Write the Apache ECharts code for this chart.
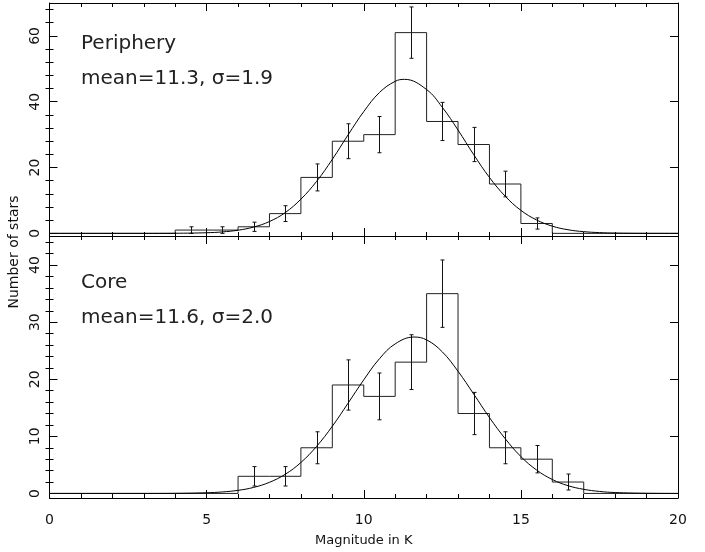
<!DOCTYPE html>
<html>
<head>
<meta charset="utf-8">
<script src="https://cdn.jsdelivr.net/npm/echarts@6/dist/echarts.min.js"></script>
<style>
html,body{margin:0;padding:0;background:#fff;}
#c{width:705px;height:552px;}
</style>
</head>
<body>
<div id="c"></div>
<script>
// ---- data ----
// Periphery (top panel): bins of width 1, left edges
const periEdges  = [4, 5, 6, 7, 8, 9, 10, 11, 12, 13, 14, 15];
const periCounts = [1, 1, 2, 6, 17, 28, 30, 61, 34, 27, 15, 3];
const periErr    = [1.0, 1.0, 1.4, 2.4, 4.1, 5.3, 5.5, 7.8, 5.8, 5.2, 3.9, 1.7];
const periCurveX = [0,1,2,3,4,5,5.5,6,6.5,7,7.5,8,8.5,9,9.5,10,10.5,11,11.3,12,12.5,13,13.5,14,14.5,15,15.5,16,16.5,17,17.5,18,19,20];
const periCurveY = [0,0,0,0,0.03,0.19,0.44,0.96,1.93,3.6,6.3,10.4,15.8,22.5,29.9,37.0,42.8,46.2,46.8,43.7,38.3,31.4,23.9,17.0,11.3,7.0,4.07,2.19,1.1,0.52,0.23,0.09,0.01,0];

// Core (bottom panel)
const coreEdges  = [6, 7, 8, 9, 10, 11, 12, 13, 14, 15, 16];
const coreCounts = [3, 3, 8, 19, 17, 23, 35, 14, 8, 6, 2];
const coreErr    = [1.7, 1.7, 2.8, 4.4, 4.1, 4.8, 5.9, 3.7, 2.8, 2.4, 1.4];
const coreCurveX = [0,1,2,3,4,5,5.5,6,6.5,7,7.5,8,8.5,9,9.5,10,10.5,11,11.6,12,12.5,13,13.5,14,14.5,15,15.5,16,16.5,17,17.5,18,19,20];
const coreCurveY = [0,0,0,0,0.02,0.12,0.26,0.54,1.06,1.95,3.35,5.42,8.25,11.77,15.8,19.9,23.6,26.2,27.4,26.9,24.8,21.4,17.4,13.3,9.6,6.46,4.1,2.44,1.36,0.72,0.35,0.16,0.03,0];

// axes / ticks
const xMin = 0, xMax = 20;
const periYMajor = [0, 20, 40, 60];
const periYMinor = [4, 8, 12, 16, 24, 28, 32, 36, 44, 48, 52, 56, 64, 68];
const coreYMajor = [0, 10, 20, 30, 40];
const coreYMinor = [2, 4, 6, 8, 12, 14, 16, 18, 22, 24, 26, 28, 32, 34, 36, 38, 42, 44];

const labels = {
  periName: 'Periphery', periStats: 'mean=11.3, \u03c3=1.9',
  coreName: 'Core', coreStats: 'mean=11.6, \u03c3=2.0',
  xName: 'Magnitude in K', yName: 'Number of stars'
};

// ---- build ----
const FONT = 'DejaVu Sans';
const INK = '#000';

function stepData(edges, counts) {
  const d = [[xMin, 0]];
  edges.forEach((e, i) => d.push([e, counts[i]]));
  d.push([edges[edges.length - 1] + 1, 0]);
  d.push([xMax, 0]);
  return d;
}
function errData(edges, counts, err) {
  return edges.map((e, i) => [e + 0.5, counts[i], err[i]]);
}
function pairs(xs, ys) { return xs.map((x, i) => [x, ys[i]]); }

const L = 49.5, W = 628.5;
const grids = [
  { left: L, top: 3, width: W, height: 233 },
  { left: L, top: 236, width: W, height: 262 }
];
const yRanges = [[-0.8, 70], [-0.8, 45.1]];
const majors = [periYMajor, coreYMajor];
const minors = [periYMinor, coreYMinor];

const lineStyle = { color: INK, width: 1 };
const xAxes = [], yAxes = [];
[0, 1].forEach(g => {
  ['bottom', 'top'].forEach(pos => {
    const showLab = (g === 1 && pos === 'bottom');
    xAxes.push({
      gridIndex: g, type: 'value', min: xMin, max: xMax, interval: 5, position: pos,
      axisLine: { show: true, onZero: false, lineStyle },
      axisTick: { show: true, inside: true, length: 8, lineStyle },
      minorTick: { show: true, splitNumber: 5, length: 4, lineStyle },
      axisLabel: { show: showLab, margin: 15, fontSize: 14, fontFamily: FONT, color: '#111' },
      splitLine: { show: false }, minorSplitLine: { show: false },
      name: showLab ? labels.xName : '', nameLocation: 'middle', nameGap: 36,
      nameTextStyle: { fontSize: 13, fontFamily: FONT, color: '#111' }
    });
  });
  ['left', 'right'].forEach(pos => {
    yAxes.push({
      gridIndex: g, type: 'value', min: yRanges[g][0], max: yRanges[g][1], position: pos,
      axisLine: { show: true, onZero: false, lineStyle },
      axisTick: { show: true, inside: true, length: 8, customValues: majors[g], lineStyle },
      axisLabel: { show: pos === 'left', customValues: majors[g], rotate: 90, margin: 7,
                   fontSize: 14, fontFamily: FONT, color: '#111' },
      splitLine: { show: false }
    });
    yAxes.push({
      gridIndex: g, type: 'value', min: yRanges[g][0], max: yRanges[g][1], position: pos,
      axisLine: { show: false },
      axisTick: { show: true, inside: true, length: 4, customValues: minors[g], lineStyle },
      axisLabel: { show: false },
      splitLine: { show: false }
    });
  });
});

function errSeries(g, data) {
  return {
    type: 'custom', xAxisIndex: g * 2, yAxisIndex: g * 4, data,
    renderItem(params, api) {
      const x = api.value(0), y = api.value(1), e = api.value(2);
      const p1 = api.coord([x, y - e]), p2 = api.coord([x, y + e]);
      const cx = Math.round(p1[0]) + 0.5, h = 2;
      const st = { stroke: '#111', lineWidth: 1 };
      return { type: 'group', children: [
        { type: 'line', shape: { x1: cx, y1: p1[1], x2: cx, y2: p2[1] }, style: st },
        { type: 'line', shape: { x1: cx - h, y1: p1[1], x2: cx + h, y2: p1[1] }, style: st },
        { type: 'line', shape: { x1: cx - h, y1: p2[1], x2: cx + h, y2: p2[1] }, style: st }
      ]};
    }
  };
}
function histSeries(g, data) {
  return { type: 'line', step: 'end', xAxisIndex: g * 2, yAxisIndex: g * 4, data,
    symbol: 'none', lineStyle: { color: '#222', width: 1 }, silent: true };
}
function curveSeries(g, data) {
  return { type: 'line', smooth: 0.4, xAxisIndex: g * 2, yAxisIndex: g * 4, data,
    symbol: 'none', lineStyle: { color: INK, width: 1 }, silent: true };
}

const txt = (text, left, top, size) => ({
  type: 'text', left, top,
  style: { text, font: `${size}px "${FONT}"`, fill: '#222' }
});

const option = {
  animation: false,
  backgroundColor: '#fff',
  grid: grids,
  xAxis: xAxes,
  yAxis: yAxes,
  series: [
    histSeries(0, stepData(periEdges, periCounts)),
    curveSeries(0, pairs(periCurveX, periCurveY)),
    errSeries(0, errData(periEdges, periCounts, periErr)),
    histSeries(1, stepData(coreEdges, coreCounts)),
    curveSeries(1, pairs(coreCurveX, coreCurveY)),
    errSeries(1, errData(coreEdges, coreCounts, coreErr))
  ],
  graphic: [
    txt(labels.periName, 81, 34, 20),
    txt(labels.periStats, 81, 69, 20),
    txt(labels.coreName, 81, 273, 20),
    txt(labels.coreStats, 81, 308, 20),
    { type: 'text', x: 14, y: 252, rotation: Math.PI / 2,
      style: { text: labels.yName, font: `14px "${FONT}"`, fill: '#111',
               align: 'center', verticalAlign: 'middle' } }
  ]
};

echarts.init(document.getElementById('c'), null, { renderer: 'canvas' }).setOption(option);
</script>
</body>
</html>
